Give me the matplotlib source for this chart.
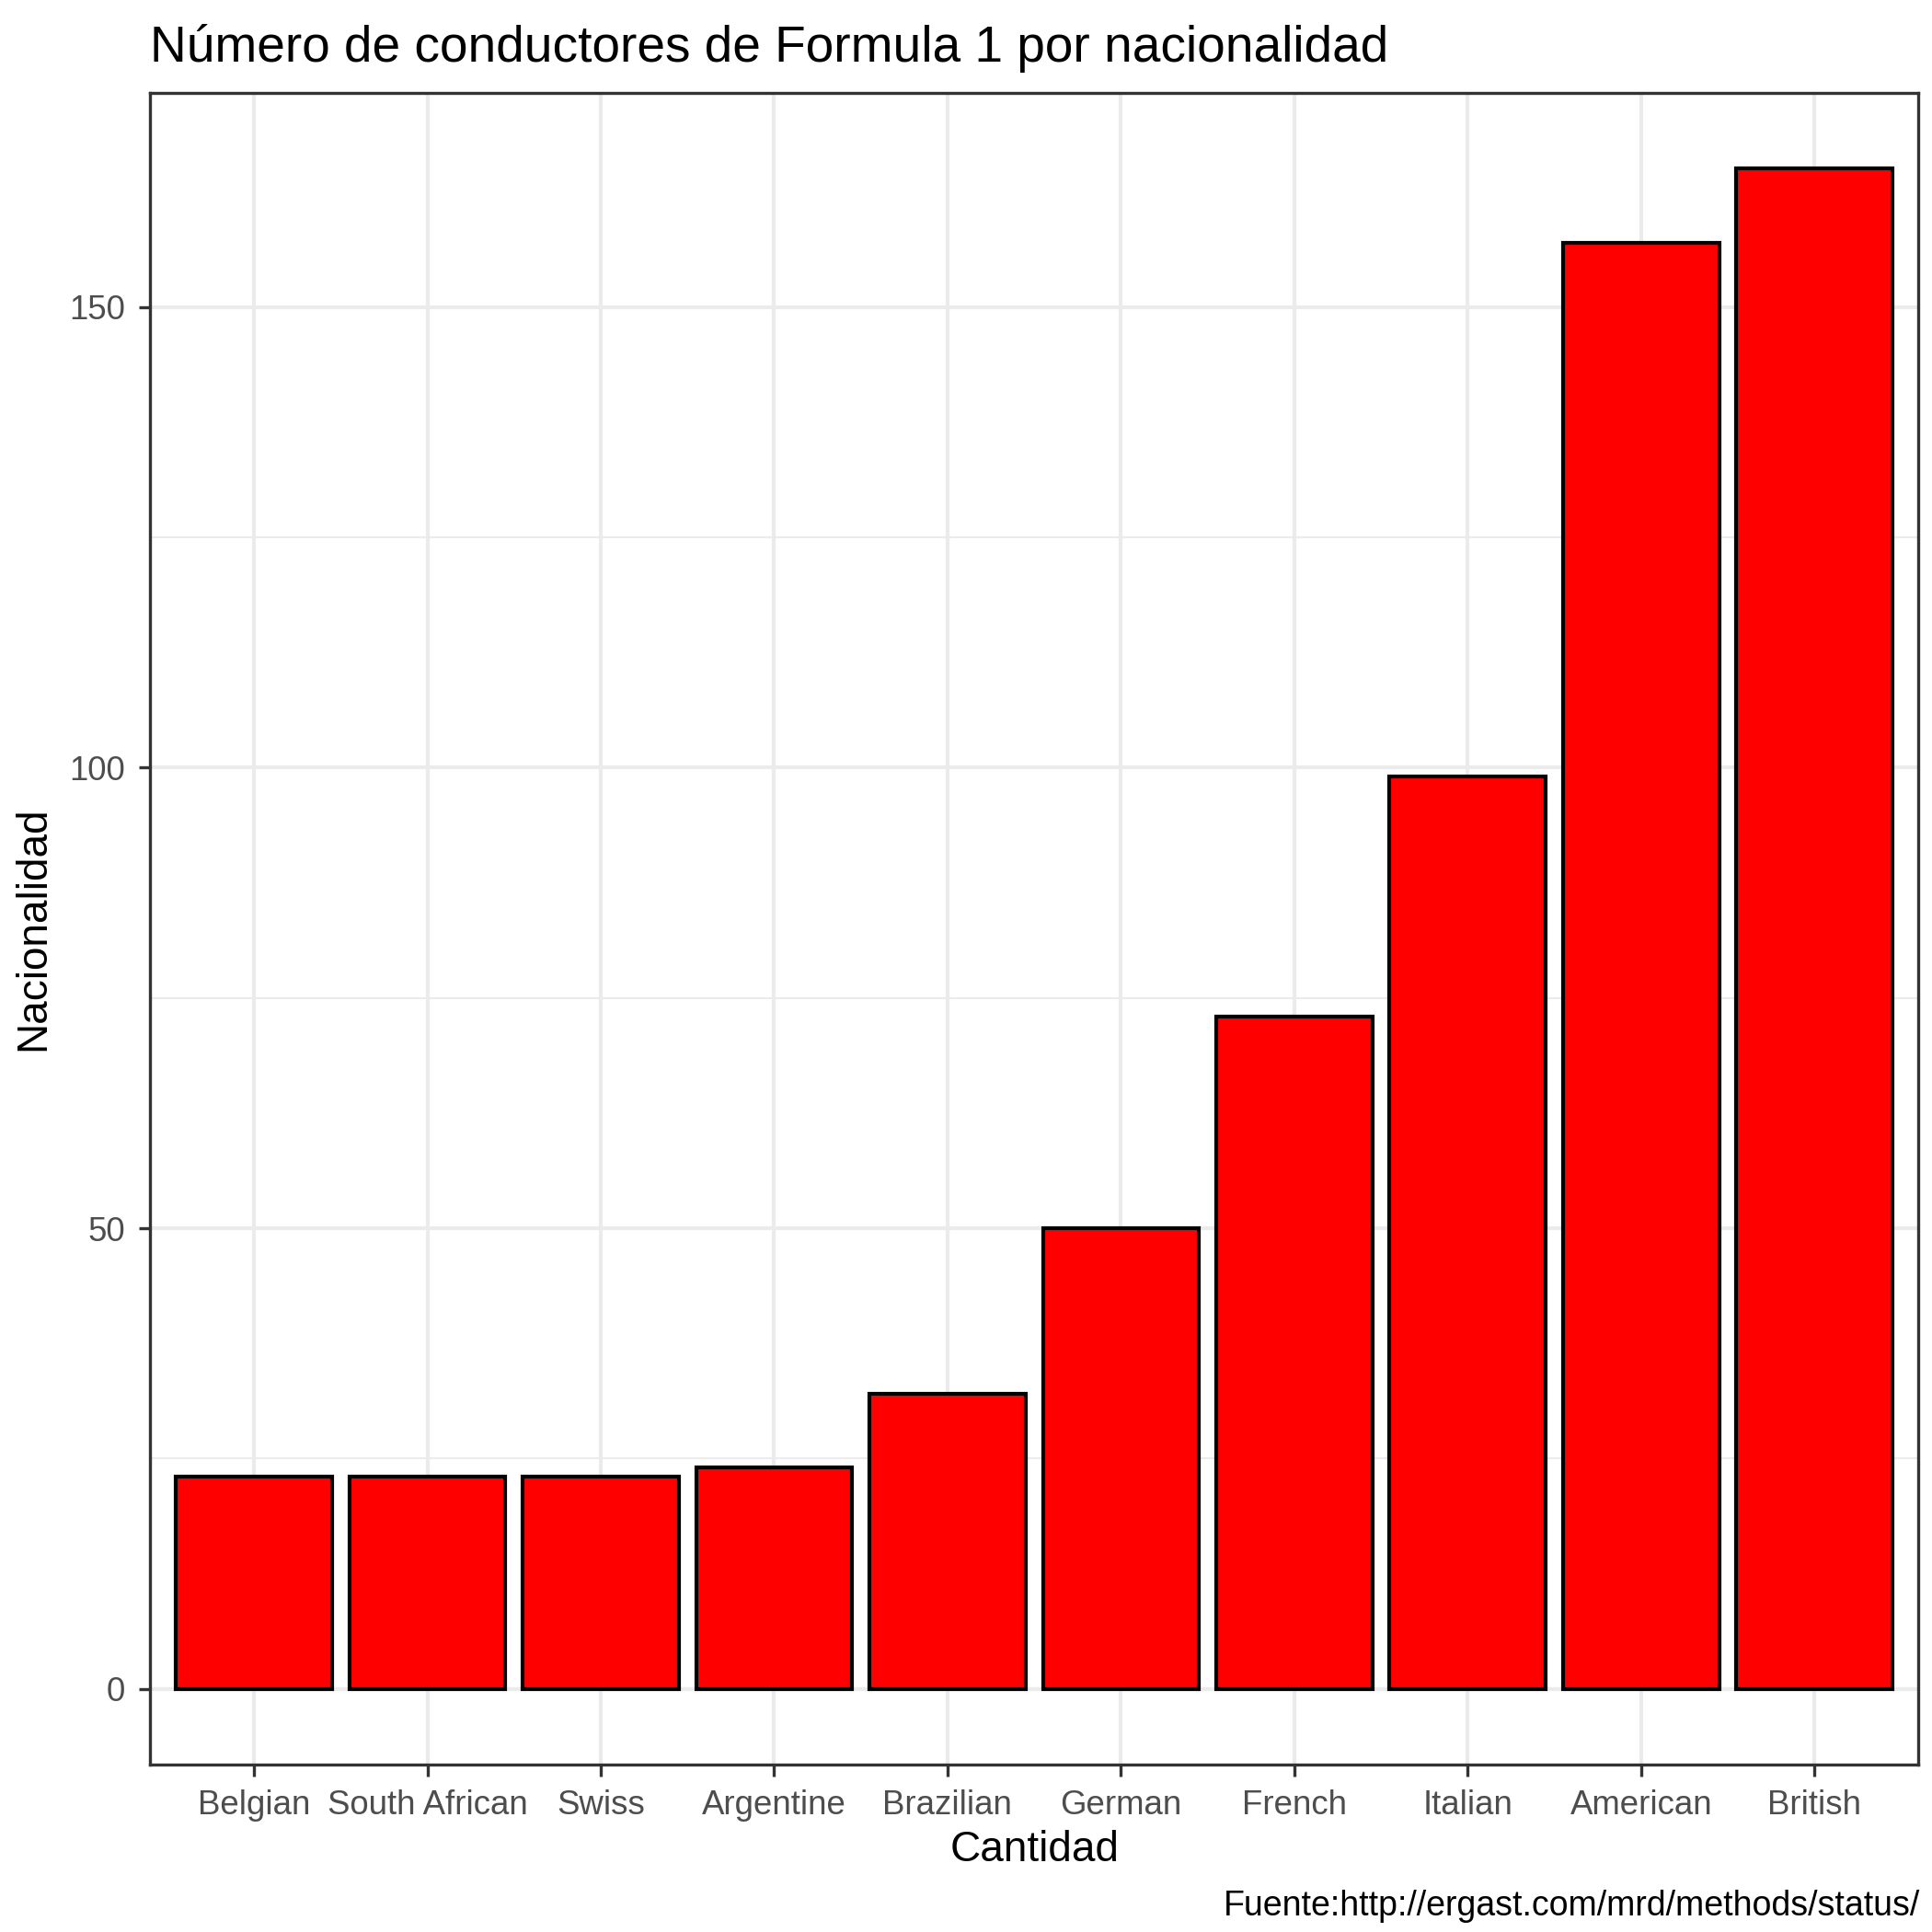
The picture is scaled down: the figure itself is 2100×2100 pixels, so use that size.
import matplotlib.pyplot as plt
import numpy as np

plt.rcParams['font.family'] = ['Liberation Sans', 'DejaVu Sans']

nationalities = ['Belgian', 'South African', 'Swiss', 'Argentine', 'Brazilian',
                 'German', 'French', 'Italian', 'American', 'British']
counts = [23, 23, 23, 24, 32, 50, 73, 99, 157, 165]

fig = plt.figure(figsize=(7, 7), dpi=300)
ax = fig.add_axes([0.0776, 0.0865, 0.9154, 0.8655])

x = np.arange(len(nationalities))
ax.bar(x, counts, width=0.9, color='#FF0000', edgecolor='black', linewidth=1.0, zorder=3)

ax.set_xlim(-0.6, len(nationalities) - 0.4)
ax.set_ylim(-8.25, 173.25)
ax.set_xticks(x)
ax.set_xticklabels(nationalities)
ax.set_yticks([0, 50, 100, 150])
ax.set_yticks([25, 75, 125], minor=True)

ax.grid(True, which='major', color='#EBEBEB', linewidth=1.0, zorder=0)
ax.grid(True, which='minor', axis='y', color='#EBEBEB', linewidth=0.5, zorder=0)
for s in ax.spines.values():
    s.set_color('#333333')
    s.set_linewidth(0.8)
ax.tick_params(which='major', colors='#333333', labelcolor='#4D4D4D', labelsize=8.8, length=3, width=0.8)
ax.tick_params(which='minor', length=0)

ax.set_xlabel('Cantidad', fontsize=11, labelpad=2)
ax.set_ylabel('Nacionalidad', fontsize=11)
ax.set_title('Número de conductores de Formula 1 por nacionalidad', fontsize=13.2, loc='left', pad=8)
fig.text(0.994, 0.005, 'Fuente:http://ergast.com/mrd/methods/status/', ha='right', va='bottom', fontsize=9)

fig.savefig('out.png', dpi=300)
